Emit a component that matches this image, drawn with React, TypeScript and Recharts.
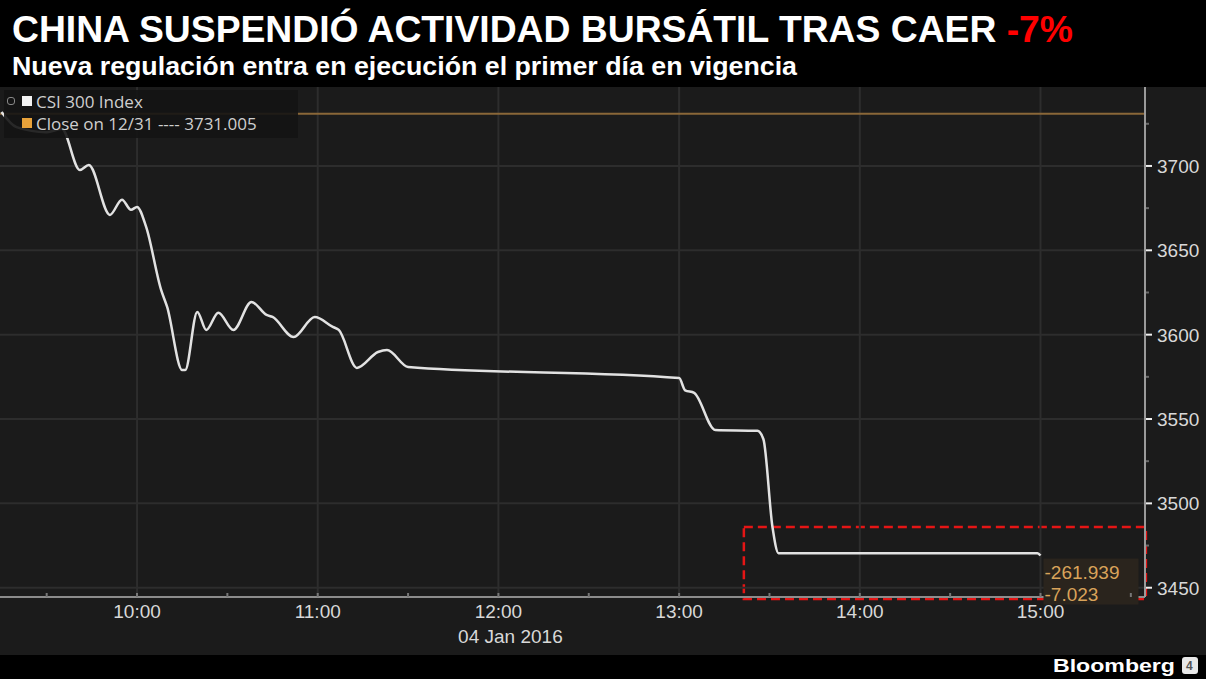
import { Line, LineChart, ReferenceArea, ReferenceDot, ReferenceLine, XAxis, YAxis } from "recharts";

// CSI 300, 04 Jan 2016 (intraday)
const TIMES = [
  "09:15", "09:20", "09:30", "09:35", "09:41", "09:44", "09:51", "09:55", "09:58", "10:00",
  "10:03", "10:08", "10:10", "10:15", "10:16", "10:20", "10:23", "10:27", "10:32", "10:38",
  "10:43", "10:45", "10:52", "10:59", "11:05", "11:07", "11:13", "11:20", "11:23", "11:30",
  "13:00", "13:02", "13:05", "13:12", "13:26", "13:28", "13:31", "13:33", "14:59", "15:00"
];
const VALUES = [
  3732, 3723, 3720, 3722, 3697.6, 3700.6, 3671, 3680, 3674, 3675.7,
  3664, 3626.5, 3616.4, 3579, 3579, 3613.5, 3602.8, 3613, 3602.8, 3619.4,
  3611.7, 3610.5, 3598.6, 3610.5, 3604.6, 3602.8, 3580.3, 3589.7, 3590.9, 3580.9,
  3574.3, 3567, 3565.5, 3543.5, 3543, 3538, 3486, 3470.5, 3470.5, 3469.07
];
const PREV_CLOSE = 3731.005;
const NET_CHANGE = "-261.939";
const PCT_CHANGE = "-7.023";

const Y_TICKS = [3450, 3475, 3500, 3525, 3550, 3575, 3600, 3625, 3650, 3675, 3700, 3725];
const Y_GRID = [3450, 3500, 3550, 3600, 3650, 3700];
const X_TICKS = ["09:30", "10:00", "10:30", "11:00", "11:30", "12:00", "12:30", "13:00", "13:30", "14:00", "14:30", "15:00", "15:30"];
const X_GRID = ["10:00", "11:00", "12:00", "13:00", "14:00", "15:00"];
const DATE_LABEL = "04 Jan 2016";

const toMin = (s: string) => {
  const [h, m] = s.split(":").map(Number);
  return h * 60 + m;
};
const fmt = (m: number) => `${Math.floor(m / 60)}:${String(m % 60).padStart(2, "0")}`;

const data = TIMES.map((t, i) => ({ t: toMin(t), v: VALUES[i] }));
const last = data[data.length - 1];

const FONT = "'Liberation Sans', Arial, sans-serif";

function YTick({ x, y, payload }: any) {
  const major = payload.value % 50 === 0;
  return (
    <g>
      <line x1={x + 1} x2={x + (major ? 7 : 4)} y1={y} y2={y} stroke={major ? "#eeeeee" : "#6a6a6a"} strokeWidth={2} />
      {major && (
        <text x={x + 12} y={y + 7} fill="#d8d8d8" fontSize={19} fontFamily={FONT}>
          {payload.value}
        </text>
      )}
    </g>
  );
}

function XTick({ x, y, payload }: any) {
  const m = payload.value;
  const hour = m % 60 === 0;
  return (
    <g>
      <line x1={x} x2={x} y1={y - 4} y2={y} stroke="#777" strokeWidth={2} />
      {hour && (
        <text x={x} y={y + 21} textAnchor="middle" fill="#d8d8d8" fontSize={19} fontFamily={FONT}>
          {fmt(m)}
        </text>
      )}
      {m === 720 && (
        <text x={x + 12} y={y + 46} textAnchor="middle" fill="#d8d8d8" fontSize={19} fontFamily={FONT}>
          {DATE_LABEL}
        </text>
      )}
    </g>
  );
}

function ChangeLabel({ cx, cy }: any) {
  return (
    <g>
      <rect x={cx + 3} y={cy + 3} width={95} height={46} fill="#2a241d" />
      <text x={cx + 4} y={cy + 23} fill="#d9a35a" fontSize={19} fontFamily={FONT}>
        {NET_CHANGE}
      </text>
      <text x={cx + 4} y={cy + 45} fill="#d9a35a" fontSize={19} fontFamily={FONT}>
        {PCT_CHANGE}
      </text>
    </g>
  );
}

export default function App() {
  return (
    <div style={{ position: "absolute", left: 0, top: 0, width: 1206, height: 679, background: "#000", overflow: "hidden" }}>
      <svg width={1206} height={87} style={{ position: "absolute", left: 0, top: 0 }}>
        <text x={12} y={42} fontSize={37} fontWeight="bold" fontFamily={FONT} fill="#fff" textLength={1061} lengthAdjust="spacingAndGlyphs">
          CHINA SUSPENDIÓ ACTIVIDAD BURSÁTIL TRAS CAER <tspan fill="#ff0000">-7%</tspan>
        </text>
        <text x={12} y={75} fontSize={25} fontWeight="bold" fontFamily={FONT} fill="#fff" textLength={785} lengthAdjust="spacingAndGlyphs">
          Nueva regulación entra en ejecución el primer día en vigencia
        </text>
      </svg>

      <div style={{ position: "absolute", left: 0, top: 87, width: 1206, height: 568, background: "#1b1b1b" }}>
        <LineChart width={1206} height={568} data={data} margin={{ top: 0, right: 0, bottom: 0, left: 0 }}>
          {Y_GRID.map((v) => (
            <ReferenceLine key={"h" + v} y={v} stroke="#2d2d2d" strokeWidth={2} />
          ))}
          {X_GRID.map((t) => (
            <ReferenceLine key={"v" + t} x={toMin(t)} stroke="#2d2d2d" strokeWidth={2} />
          ))}
          <XAxis
            dataKey="t"
            type="number"
            domain={[554.5, 934.7]}
            ticks={X_TICKS.map(toMin)}
            interval={0}
            height={58}
            tickSize={0}
            tickMargin={0}
            tick={<XTick />}
            axisLine={{ stroke: "#8c8c8c", strokeWidth: 2 }}
            allowDataOverflow
          />
          <YAxis
            orientation="right"
            type="number"
            domain={[3444.5, 3746.8]}
            ticks={Y_TICKS}
            interval={0}
            width={61}
            tickSize={0}
            tickMargin={0}
            tick={<YTick />}
            axisLine={{ stroke: "#9a9a9a", strokeWidth: 2 }}
            allowDataOverflow
          />
          <ReferenceLine y={PREV_CLOSE} stroke="#8a6738" strokeWidth={2} />
          <Line
            type="monotone"
            dataKey="v"
            stroke="#e2e2e2"
            strokeWidth={2.5}
            dot={false}
            isAnimationActive={false}
          />
          <ReferenceDot x={last.t} y={last.v} r={0} ifOverflow="visible" shape={(p: any) => <ChangeLabel cx={p.cx} cy={p.cy} />} />
          <ReferenceArea
            x1={801.5}
            x2={935}
            y1={3486}
            y2={3443.3}
            ifOverflow="visible"
            fill="none"
            fillOpacity={0}
            stroke="#e51515"
            strokeWidth={2.5}
            strokeDasharray="9 5"
          />
        </LineChart>

        <div
          style={{
            position: "absolute",
            left: 4,
            top: 3,
            width: 294,
            height: 48,
            background: "rgba(20,20,20,0.9)",
            fontFamily: "'Open Sans', sans-serif",
            fontSize: 17,
            color: "#cfcfcf",
            lineHeight: "19px"
          }}
        >
          <div style={{ position: "absolute", left: 3, top: 7, width: 6, height: 6, borderRadius: 3, border: "1px solid #888" }} />
          <div style={{ position: "absolute", left: 18, top: 6, width: 10, height: 10, background: "#f2f2f2" }} />
          <div style={{ position: "absolute", left: 18, top: 28, width: 10, height: 10, background: "#e8a23a" }} />
          <div style={{ position: "absolute", left: 32, top: 2 }}>CSI 300 Index</div>
          <div style={{ position: "absolute", left: 32, top: 24, whiteSpace: "pre" }}>Close on 12/31 ---- 3731.005</div>
        </div>
      </div>

      <svg width={1206} height={24} style={{ position: "absolute", left: 0, top: 655 }}>
        <text x={1053} y={17} fontSize={18} fontWeight="bold" fontFamily={FONT} fill="#fff" textLength={122} lengthAdjust="spacingAndGlyphs">
          Bloomberg
        </text>
        <rect x={1182} y={2} width={16} height={17} rx={3} fill="#e8e8e8" />
        <text x={1186} y={15} fontSize={12} fontWeight="bold" fontFamily={FONT} fill="#555">4</text>
      </svg>
    </div>
  );
}
